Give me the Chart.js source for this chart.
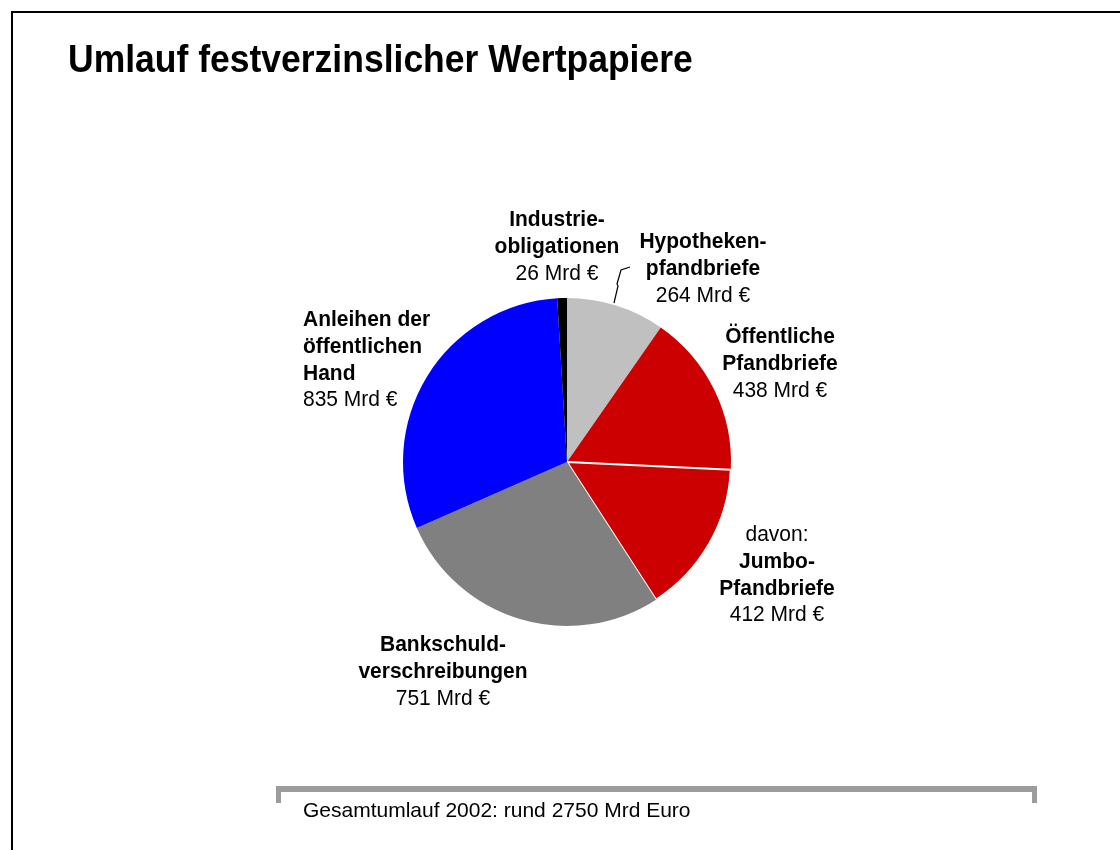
<!DOCTYPE html>
<html lang="de">
  <head>
    <meta charset="utf-8" />
    <title>Umlauf festverzinslicher Wertpapiere</title>
    <style>
      * {
        margin: 0;
        padding: 0;
      }
      body {
        width: 1120px;
        height: 850px;
        overflow: hidden;
        background: #fff;
        font-family: 'Liberation Sans', Arial, sans-serif;
        position: relative;
      }
      .frame {
        position: absolute;
        left: 11px;
        top: 11px;
        width: 1200px;
        height: 900px;
        border-left: 2px solid #000;
        border-top: 2px solid #000;
      }
      #pie {
        position: absolute;
        left: 0;
        top: 0;
      }
      .title {
        position: absolute;
        left: 68px;
        top: 37px;
        font-size: 35.5px;
        font-weight: bold;
        color: #000;
        white-space: nowrap;
        transform: scaleY(1.08);
        transform-origin: left top;
      }
      .bracket {
        position: absolute;
        left: 276px;
        top: 786px;
        width: 751px;
        height: 11px;
        border-top: 6px solid #9c9c9c;
        border-left: 5px solid #9c9c9c;
        border-right: 5px solid #9c9c9c;
      }
      .note {
        position: absolute;
        left: 303px;
        top: 798px;
        font-size: 21px;
        color: #000;
        white-space: nowrap;
      }
    </style>
  </head>
  <body>
    <div class="frame"></div>
    <canvas id="pie" width="1120" height="850"></canvas>
    <div class="title">Umlauf festverzinslicher Wertpapiere</div>
    <div class="bracket"></div>
    <div class="note">Gesamtumlauf 2002: rund 2750 Mrd Euro</div>

    <script src="https://cdn.jsdelivr.net/npm/chart.js"></script>
    <script>
      // data
      const categories = [
        'Hypothekenpfandbriefe',
        'Öffentliche Pfandbriefe',
        'Jumbo-Pfandbriefe',
        'Bankschuldverschreibungen',
        'Anleihen der öffentlichen Hand',
        'Industrieobligationen',
      ];
      const values = [264, 438, 412, 751, 835, 26];
      const valueLabels = ['264 Mrd €', '438 Mrd €', '412 Mrd €', '751 Mrd €', '835 Mrd €', '26 Mrd €'];
      const nameLines = [
        ['Hypotheken-', 'pfandbriefe'],
        ['Öffentliche', 'Pfandbriefe'],
        ['Jumbo-', 'Pfandbriefe'],
        ['Bankschuld-', 'verschreibungen'],
        ['Anleihen der', 'öffentlichen', 'Hand'],
        ['Industrie-', 'obligationen'],
      ];
      const prefixLines = ['', '', 'davon:', '', '', ''];
      const colors = ['#c0c0c0', '#cc0000', '#cc0000', '#808080', '#0000ff', '#000000'];

      // label placement, offset from pie centre (x, first line y, align)
      const labelPos = [
        { dx: 136, dy: -220, align: 'center' },
        { dx: 213, dy: -125, align: 'center' },
        { dx: 210, dy: 73, align: 'center' },
        { dx: -124, dy: 183, align: 'center' },
        { dx: -264, dy: -142, align: 'left' },
        { dx: -10, dy: -242, align: 'center' },
      ];
      const lineStep = 26.7;

      const labelPlugin = {
        id: 'sliceLabels',
        afterDraw(chart) {
          const ctx = chart.ctx;
          const arc = chart.getDatasetMeta(0).data[0];
          const cx = arc.x;
          const cy = arc.y;
          ctx.save();
          ctx.fillStyle = '#000';
          ctx.textBaseline = 'middle';
          labelPos.forEach((p, i) => {
            const lines = [];
            if (prefixLines[i]) lines.push({ t: prefixLines[i], bold: false });
            nameLines[i].forEach((t) => lines.push({ t, bold: true }));
            lines.push({ t: valueLabels[i], bold: false });
            ctx.textAlign = p.align;
            lines.forEach((l, k) => {
              ctx.font = (l.bold ? 'bold ' : '') + '21px "Liberation Sans", Arial, sans-serif';
              // text in the original is a little taller than wide
              ctx.save();
              ctx.translate(cx + p.dx, cy + p.dy + k * lineStep);
              ctx.scale(1, 1.08);
              ctx.fillText(l.t, 0, 0);
              ctx.restore();
            });
          });
          // leader line for Hypothekenpfandbriefe
          ctx.strokeStyle = '#000';
          ctx.lineWidth = 1.2;
          ctx.beginPath();
          ctx.moveTo(cx + 47, cy - 159);
          ctx.lineTo(cx + 51, cy - 176);
          ctx.lineTo(cx + 50, cy - 178);
          ctx.lineTo(cx + 54, cy - 192);
          ctx.lineTo(cx + 63, cy - 195);
          ctx.stroke();
          ctx.restore();
        },
      };

      const config = {
        type: 'pie',
        data: {
          labels: categories,
          datasets: [
            {
              data: values,
              backgroundColor: colors,
              borderColor: '#ffffff',
              borderWidth: [0, 0, 2, 0, 0, 0],
            },
          ],
        },
        options: {
          responsive: false,
          animation: false,
          layout: {
            padding: { left: 402, right: 388, top: 297, bottom: 223 },
          },
          plugins: {
            legend: { display: false },
            tooltip: { enabled: false },
          },
        },
        plugins: [labelPlugin],
      };

      const pieChart = new Chart(document.getElementById('pie'), config);
    </script>
  </body>
</html>
